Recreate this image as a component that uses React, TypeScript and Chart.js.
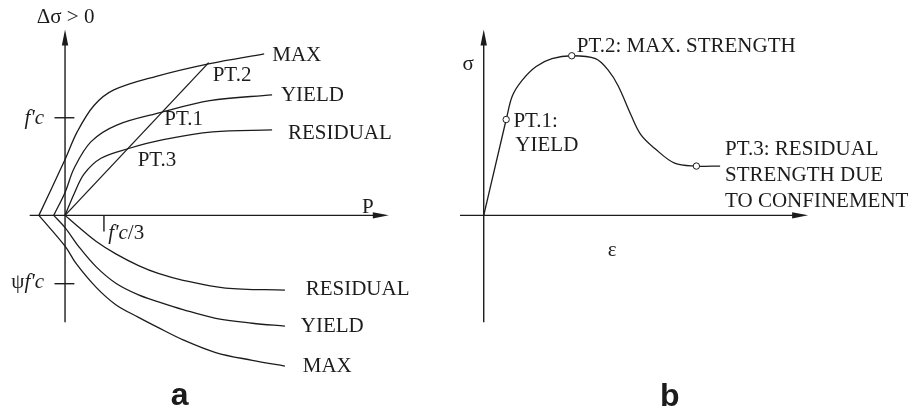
import React, { useEffect, useRef } from "react";
import { Chart, registerables } from "chart.js";

Chart.register(...registerables);

// ---------- Panel a: P (in units of f'c) vs Δσ (in units of f'c) ----------
const upMaxP = [-0.224, 0, 0.104, 0.248, 0.418, 0.782, 1.24, 1.706];
const upMaxS = [0, 0.572, 0.855, 1.125, 1.285, 1.425, 1.555, 1.655];
const upYieldP = [-0.097, 0, 0.079, 0.223, 0.443, 0.825, 1.24, 1.774];
const upYieldS = [0, 0.235, 0.485, 0.755, 0.925, 1.055, 1.175, 1.235];
const upResP = [0, 0.079, 0.164, 0.308, 0.545, 0.842, 1.265, 1.774];
const upResS = [0, 0.225, 0.425, 0.585, 0.685, 0.775, 0.855, 0.875];
const diagP = [0, 1.231];
const diagS = [0, 1.565];
const loMaxP = [-0.224, 0, 0.096, 0.265, 0.435, 0.63, 0.791, 1.011, 1.291, 1.604, 1.884];
const loMaxS = [0, -0.315, -0.495, -0.735, -0.915, -1.045, -1.145, -1.275, -1.405, -1.485, -1.545];
const loYieldP = [-0.097, 0, 0.121, 0.265, 0.435, 0.63, 0.799, 1.011, 1.291, 1.604, 1.884];
const loYieldS = [0, -0.125, -0.325, -0.525, -0.695, -0.815, -0.885, -0.965, -1.055, -1.105, -1.135];
const loResP = [0, 0.121, 0.265, 0.435, 0.63, 0.799, 1.011, 1.375, 1.884];
const loResS = [0, -0.125, -0.265, -0.395, -0.515, -0.595, -0.665, -0.745, -0.765];
const fcValue = 1;
const psiValue = 0.7;
const fc3Value = 1 / 3;

// ---------- Panel b: ε vs σ ----------
const riseE = [0, 0.227];
const riseS = [0, 0.982];
const curveE = [0.227, 0.29, 0.39, 0.53, 0.69, 0.89, 1.13, 1.26, 1.36, 1.49, 1.59, 1.73, 1.93, 2.15, 2.39];
const curveS = [0.982, 1.225, 1.385, 1.525, 1.605, 1.635, 1.605, 1.485, 1.325, 1.025, 0.825, 0.685, 0.535, 0.505, 0.505];
const keyE = [0.227, 0.89, 2.15];
const keyS = [0.982, 1.635, 0.505];

const INK = "#1c1c1c";
const SERIF = "'Liberation Serif', 'Times New Roman', serif";
const FS = 21;

const pts = (xs: number[], ys: number[]) => xs.map((x, i) => ({ x, y: ys[i] }));

const lineDs = (xs: number[], ys: number[], axis: string, curved = true) => ({
  data: pts(xs, ys),
  xAxisID: axis,
  yAxisID: "y",
  showLine: true,
  borderColor: INK,
  borderWidth: 1.3,
  pointRadius: 0,
  tension: curved ? 0.35 : 0,
  clip: false,
  order: 1,
});

type Lbl = { t: string; ax: string; x: number; y: number; align?: CanvasTextAlign; font?: string; parts?: { t: string; f: string }[] };

const labels: Lbl[] = [
  { t: "Δσ > 0", ax: "xa", x: 0.005, y: 1.975, align: "center" },
  { t: "P", ax: "xa", x: 2.545, y: 0.025 },
  { t: "", ax: "xa", x: -0.18, y: 0.935, align: "right", parts: [{ t: "f'c", f: "italic" }] },
  { t: "", ax: "xa", x: -0.18, y: -0.745, align: "right", parts: [{ t: "ψ", f: "" }, { t: "f'c", f: "italic" }] },
  { t: "", ax: "xa", x: 0.37, y: -0.245, parts: [{ t: "f'c", f: "italic" }, { t: "/3", f: "" }] },
  { t: "MAX", ax: "xa", x: 1.775, y: 1.585 },
  { t: "PT.2", ax: "xa", x: 1.265, y: 1.375 },
  { t: "YIELD", ax: "xa", x: 1.85, y: 1.175 },
  { t: "RESIDUAL", ax: "xa", x: 1.91, y: 0.785 },
  { t: "PT.1", ax: "xa", x: 0.85, y: 0.925 },
  { t: "PT.3", ax: "xa", x: 0.622, y: 0.505 },
  { t: "RESIDUAL", ax: "xa", x: 2.062, y: -0.815 },
  { t: "YIELD", ax: "xa", x: 2.02, y: -1.195 },
  { t: "MAX", ax: "xa", x: 2.037, y: -1.605 },
  { t: "a", ax: "xa", x: 0.981, y: -1.945, align: "center", font: "bold 32px 'Liberation Sans', Arial, sans-serif" },
  { t: "σ", ax: "xb", x: -0.215, y: 1.485 },
  { t: "PT.2: MAX. STRENGTH", ax: "xb", x: 0.94, y: 1.675 },
  { t: "PT.1:", ax: "xb", x: 0.3, y: 0.905 },
  { t: "YIELD", ax: "xb", x: 0.32, y: 0.655 },
  { t: "PT.3: RESIDUAL", ax: "xb", x: 2.44, y: 0.615 },
  { t: "STRENGTH DUE", ax: "xb", x: 2.44, y: 0.355 },
  { t: "TO CONFINEMENT", ax: "xb", x: 2.44, y: 0.085 },
  { t: "ε", ax: "xb", x: 1.255, y: -0.415 },
  { t: "b", ax: "xb", x: 1.88, y: -1.955, align: "center", font: "bold 32px 'Liberation Sans', Arial, sans-serif" },
];

const diagramPlugin = {
  id: "diagram",
  afterDatasetsDraw(chart: any) {
    const ctx: CanvasRenderingContext2D = chart.ctx;
    const xa = chart.scales.xa;
    const xb = chart.scales.xb;
    const y = chart.scales.y;
    const sc = (id: string) => (id === "xa" ? xa : xb);
    ctx.save();
    ctx.strokeStyle = INK;
    ctx.fillStyle = INK;
    ctx.lineWidth = 1.4;

    const seg = (ax: any, x1: number, y1: number, x2: number, y2: number) => {
      ctx.beginPath();
      ctx.moveTo(ax.getPixelForValue(x1), y.getPixelForValue(y1));
      ctx.lineTo(ax.getPixelForValue(x2), y.getPixelForValue(y2));
      ctx.stroke();
    };
    const arrow = (ax: any, x1: number, y1: number, x2: number, y2: number) => {
      const px1 = ax.getPixelForValue(x1), py1 = y.getPixelForValue(y1);
      const px2 = ax.getPixelForValue(x2), py2 = y.getPixelForValue(y2);
      const a = Math.atan2(py2 - py1, px2 - px1);
      const L = 16, W = 3.2;
      ctx.beginPath();
      ctx.moveTo(px1, py1);
      ctx.lineTo(px2 - Math.cos(a) * L * 0.8, py2 - Math.sin(a) * L * 0.8);
      ctx.stroke();
      ctx.beginPath();
      ctx.moveTo(px2, py2);
      ctx.lineTo(px2 - Math.cos(a) * L - Math.sin(a) * W, py2 - Math.sin(a) * L + Math.cos(a) * W);
      ctx.lineTo(px2 - Math.cos(a) * L + Math.sin(a) * W, py2 - Math.sin(a) * L - Math.cos(a) * W);
      ctx.closePath();
      ctx.fill();
    };

    // panel a axes
    arrow(xa, 0, -1.095, 0, 1.905);
    arrow(xa, -0.303, 0, 2.774, 0);
    seg(xa, -0.09, fcValue, 0.08, fcValue);
    seg(xa, -0.09, -psiValue, 0.08, -psiValue);
    seg(xa, fc3Value, 0, fc3Value, -0.165);
    // panel b axes
    arrow(xb, 0, -1.095, 0, 1.905);
    arrow(xb, -0.24, 0, 3.28, 0);

    // labels
    ctx.textBaseline = "alphabetic";
    for (const l of labels) {
      const ax = sc(l.ax);
      const px = ax.getPixelForValue(l.x);
      const py = y.getPixelForValue(l.y);
      if (l.parts) {
        const widths = l.parts.map((p) => {
          ctx.font = `${p.f} ${FS}px ${SERIF}`.trim();
          return ctx.measureText(p.t).width;
        });
        const total = widths.reduce((s, w) => s + w, 0);
        let cx = l.align === "right" ? px - total : l.align === "center" ? px - total / 2 : px;
        ctx.textAlign = "left";
        l.parts.forEach((p, i) => {
          ctx.font = `${p.f} ${FS}px ${SERIF}`.trim();
          ctx.fillText(p.t, cx, py);
          cx += widths[i];
        });
      } else {
        ctx.font = l.font || `${FS}px ${SERIF}`;
        ctx.textAlign = l.align || "left";
        ctx.fillText(l.t, px, py);
      }
    }
    ctx.restore();
  },
};

export default function App() {
  const ref = useRef<HTMLCanvasElement | null>(null);
  useEffect(() => {
    document.body.style.margin = "0";
    const canvas = ref.current!;
    const chart = new Chart(canvas, {
      type: "scatter",
      data: {
        datasets: [
          {
            data: pts(keyE, keyS),
            xAxisID: "xb",
            yAxisID: "y",
            showLine: false,
            pointRadius: 3.2,
            pointBorderWidth: 1,
            pointBackgroundColor: "#ffffff",
            pointBorderColor: INK,
            clip: false,
            order: 0,
          } as any,
          lineDs(upMaxP, upMaxS, "xa"),
          lineDs(upYieldP, upYieldS, "xa"),
          lineDs(upResP, upResS, "xa"),
          lineDs(diagP, diagS, "xa", false),
          lineDs(loMaxP, loMaxS, "xa"),
          lineDs(loYieldP, loYieldS, "xa"),
          lineDs(loResP, loResS, "xa"),
          lineDs(riseE, riseS, "xb", false),
          lineDs(curveE, curveS, "xb"),
        ] as any,
      },
      options: {
        responsive: false,
        animation: false,
        devicePixelRatio: 1,
        events: [],
        layout: { padding: 0 },
        plugins: { legend: { display: false }, tooltip: { enabled: false } },
        scales: {
          xa: { type: "linear", axis: "x", min: -0.5144, max: 7.2568, display: false },
          xb: { type: "linear", axis: "x", min: -4.84, max: 4.33, display: false },
          y: { type: "linear", min: -2.045, max: 2.155, display: false },
        } as any,
      },
      plugins: [diagramPlugin],
    });
    return () => chart.destroy();
  }, []);
  return <canvas ref={ref} width={917} height={420} style={{ display: "block", width: 917, height: 420 }} />;
}
